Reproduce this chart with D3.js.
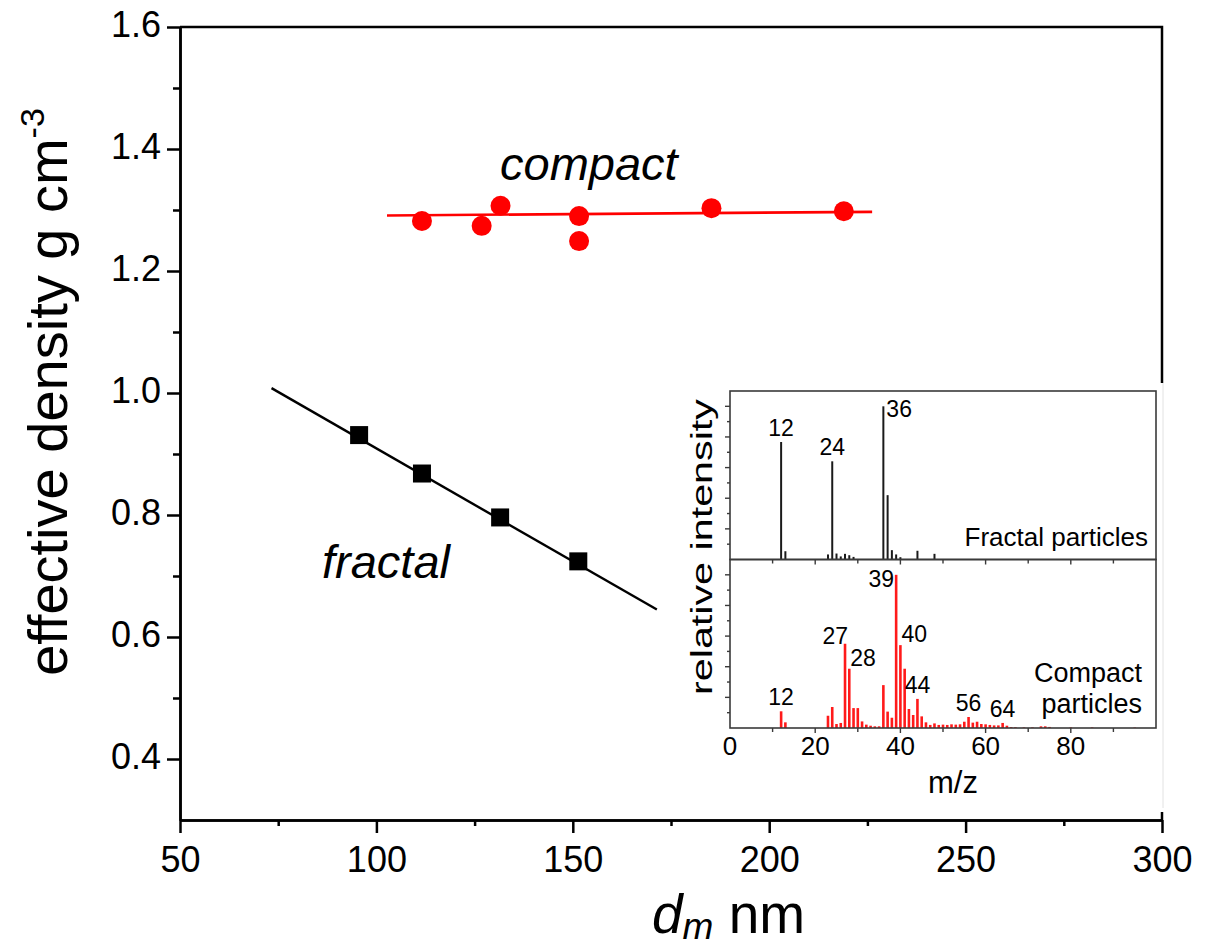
<!DOCTYPE html>
<html>
<head>
<meta charset="utf-8">
<script src="https://cdn.jsdelivr.net/npm/d3@7"></script>
<style>
  body { margin: 0; background: #fff; }
  svg { display: block; }
  text { font-family: "Liberation Sans", Arial, Helvetica, sans-serif; fill: #000; }
</style>
</head>
<body>
<svg id="chart" width="1222" height="948"></svg>
<script>
// ---- effective density vs. mobility diameter ----
const compactDm  = [111.6, 126.8, 131.6, 151.6, 151.6, 185.3, 219.0];
const compactRho = [1.282, 1.274, 1.307, 1.290, 1.249, 1.303, 1.298];
const fractalDm  = [95.6, 111.6, 131.5, 151.4];
const fractalRho = [0.931, 0.868, 0.796, 0.724];

// linear fits drawn over the measured range
const compactFitDm  = [102.7, 226.2];
const compactFitRho = [1.291, 1.297];
const fractalFitDm  = [73.3, 171.4];
const fractalFitRho = [1.008, 0.645];

const xMajorTicks = [50, 100, 150, 200, 250, 300];
const xMinorTicks = [75, 125, 175, 225, 275];
const yMajorTicks = [0.4, 0.6, 0.8, 1.0, 1.2, 1.4, 1.6];
const yMinorTicks = [0.5, 0.7, 0.9, 1.1, 1.3, 1.5];

// ---- inset: single-particle mass spectra ----
const fractalMz  = [12, 13, 23, 24, 25, 26, 27, 28, 29, 36, 37, 38, 39, 40, 44, 48];
const fractalInt = [0.767, 0.054, 0.033, 0.641, 0.039, 0.020, 0.037, 0.028, 0.017,
                    1.000, 0.420, 0.061, 0.033, 0.015, 0.057, 0.037];

const compactMz  = [12, 13, 23, 24, 25, 26, 27, 28, 29, 30, 31, 32, 33, 34, 35, 36, 37, 38,
                    39, 40, 41, 42, 43, 44, 45, 46, 47, 48, 49, 50, 51, 52, 53, 54, 55, 56,
                    57, 58, 59, 60, 61, 62, 63, 64, 65, 66, 67, 69, 71, 73, 74, 75, 80, 85, 95];
const compactInt = [0.109, 0.037, 0.080, 0.137, 0.026, 0.033, 0.550, 0.387, 0.130, 0.130,
                    0.043, 0.022, 0.015, 0.011, 0.011, 0.280, 0.107, 0.067,
                    1.000, 0.541, 0.387, 0.124, 0.085, 0.190, 0.076, 0.037, 0.020, 0.030,
                    0.020, 0.022, 0.020, 0.024, 0.022, 0.024, 0.041, 0.072,
                    0.035, 0.041, 0.026, 0.024, 0.020, 0.017, 0.017, 0.033, 0.015,
                    0.006, 0.005, 0.004, 0.004, 0.011, 0.011, 0.007, 0.004, 0.004, 0.003];

const fractalPeakLabels = [12, 24, 36];
const compactPeakLabels = [12, 27, 28, 39, 40, 44, 56, 64];
const insetXTickLabels  = [0, 20, 40, 60, 80];

// ---------------------------------------------------------------
const svg = d3.select("#chart");
const W = 1222, H = 948;
svg.append("rect").attr("width", W).attr("height", H).attr("fill", "#fff");

const x = d3.scaleLinear().domain([50, 300]).range([180, 1162]);
const y = d3.scaleLinear().domain([0.3, 1.6]).range([820, 27]);

const AXIS_W = 2.5;

// plot frame (top and right edges)
svg.append("path")
  .attr("d", `M${x(50)},${y(1.6)}H${x(300)}V${y(0.3)}`)
  .attr("fill", "none").attr("stroke", "#000").attr("stroke-width", AXIS_W);

// fit lines
const line = d3.line().x(d => x(d[0])).y(d => y(d[1]));
svg.append("path")
  .datum(d3.zip(compactFitDm, compactFitRho))
  .attr("d", line).attr("fill", "none").attr("stroke", "#ff0000").attr("stroke-width", 2.6);
svg.append("path")
  .datum(d3.zip(fractalFitDm, fractalFitRho))
  .attr("d", line).attr("fill", "none").attr("stroke", "#000").attr("stroke-width", 2.4);

// markers
svg.append("g").selectAll("circle")
  .data(d3.zip(compactDm, compactRho))
  .join("circle")
  .attr("cx", d => x(d[0])).attr("cy", d => y(d[1])).attr("r", 10)
  .attr("fill", "#ff0000");

const SQ = 18;
svg.append("g").selectAll("rect")
  .data(d3.zip(fractalDm, fractalRho))
  .join("rect")
  .attr("x", d => x(d[0]) - SQ / 2).attr("y", d => y(d[1]) - SQ / 2)
  .attr("width", SQ).attr("height", SQ)
  .attr("fill", "#000");

// series names
svg.append("text").attr("x", 500).attr("y", 180)
  .attr("font-size", 47).attr("font-style", "italic").text("compact");
svg.append("text").attr("x", 322).attr("y", 578)
  .attr("font-size", 47).attr("font-style", "italic").text("fractal");

// axes
function styleAxis(g) {
  g.select(".domain").attr("stroke", "#000").attr("stroke-width", AXIS_W);
  g.selectAll(".tick line").attr("stroke", "#000").attr("stroke-width", AXIS_W);
}
const gx = svg.append("g").attr("transform", `translate(0,${y(0.3)})`)
  .call(d3.axisBottom(x).tickValues(xMajorTicks).tickSize(13).tickSizeOuter(0).tickFormat(d3.format("d")));
styleAxis(gx);
gx.selectAll(".tick text").attr("y", 52).attr("dy", 0).attr("font-size", 36)
  .attr("font-family", null).attr("fill", "#000");
const gxm = svg.append("g").attr("transform", `translate(0,${y(0.3)})`)
  .call(d3.axisBottom(x).tickValues(xMinorTicks).tickSize(6).tickSizeOuter(0).tickFormat(""));
styleAxis(gxm);

const gy = svg.append("g").attr("transform", `translate(${x(50)},0)`)
  .call(d3.axisLeft(y).tickValues(yMajorTicks).tickSize(13).tickSizeOuter(0).tickPadding(6).tickFormat(d3.format(".1f")));
styleAxis(gy);
gy.selectAll(".tick text").attr("font-size", 36).attr("dy", "0.26em")
  .attr("font-family", null).attr("fill", "#000");
const gym = svg.append("g").attr("transform", `translate(${x(50)},0)`)
  .call(d3.axisLeft(y).tickValues(yMinorTicks).tickSize(7).tickSizeOuter(0).tickFormat(""));
styleAxis(gym);

// axis titles
const yTitle = svg.append("text")
  .attr("transform", `translate(67,392) rotate(-90)`)
  .attr("text-anchor", "middle").attr("font-size", 56);
yTitle.append("tspan").text("effective density g cm");
yTitle.append("tspan").attr("font-size", 34).attr("dy", -23).text("-3");

const xTitle = svg.append("text").attr("x", 652).attr("y", 933).attr("font-size", 55);
xTitle.append("tspan").attr("font-style", "italic").text("d");
xTitle.append("tspan").attr("font-style", "italic").attr("font-size", 37).attr("dy", 6).text("m");
xTitle.append("tspan").attr("dy", -6).text(" nm");

// ---------------- inset ----------------
const inset = svg.append("g");
inset.append("rect").attr("x", 676).attr("y", 383).attr("width", 490).attr("height", 429)
  .attr("fill", "#fff");
inset.append("line").attr("x1", 1163).attr("x2", 1163).attr("y1", 383).attr("y2", 808)
  .attr("stroke", "#e2e2e2").attr("stroke-width", 1);

const ix = d3.scaleLinear().domain([0, 100]).range([730, 1156]);
const iyTop = d3.scaleLinear().domain([0, 1.1]).range([559.5, 391]);
const iyBot = d3.scaleLinear().domain([0, 1.1]).range([728, 559.5]);
const FRAME = "#3a3a3a";

function panel(iy, mz, inten, color, width) {
  const g = inset.append("g");
  // bars
  g.selectAll("line.bar").data(d3.zip(mz, inten)).join("line")
    .attr("class", "bar")
    .attr("x1", d => ix(d[0])).attr("x2", d => ix(d[0]))
    .attr("y1", iy(0)).attr("y2", d => iy(d[1]))
    .attr("stroke", color).attr("stroke-width", width);
  // frame
  g.append("rect")
    .attr("x", ix(0)).attr("y", iy(1.1))
    .attr("width", ix(100) - ix(0)).attr("height", iy(0) - iy(1.1))
    .attr("fill", "none").attr("stroke", FRAME).attr("stroke-width", 1.6);
  // x ticks (outward, every 10)
  g.selectAll("line.xt").data(d3.range(10, 100, 10)).join("line")
    .attr("class", "xt")
    .attr("x1", d => ix(d)).attr("x2", d => ix(d))
    .attr("y1", iy(0)).attr("y2", d => iy(0) + (d % 20 === 0 ? 5 : 4))
    .attr("stroke", FRAME).attr("stroke-width", 1.4);
  // y ticks (outward, every 0.1)
  g.selectAll("line.yt").data(d3.range(1, 11)).join("line")
    .attr("class", "yt")
    .attr("x1", ix(0)).attr("x2", d => ix(0) - (d % 2 === 0 ? 5 : 3))
    .attr("y1", d => iy(d / 10)).attr("y2", d => iy(d / 10))
    .attr("stroke", FRAME).attr("stroke-width", 1.4);
  return g;
}

const gTop = panel(iyTop, fractalMz, fractalInt, "#1a1a1a", 2);
const gBot = panel(iyBot, compactMz, compactInt, "#ff1a1a", 2.6);

// peak labels, placed relative to the top of each labelled bar
const placement = {
  above:      { anchor: "middle", dx: 0,  dy: -6 },
  upperLeft:  { anchor: "end",    dx: 3,  dy: 0 },
  upperRight: { anchor: "start",  dx: 1,  dy: -3 },
  sideLeft:   { anchor: "end",    dx: -2, dy: 12 },
  sideRight:  { anchor: "start",  dx: 3,  dy: 11 }
};
const fractalPlace = { 12: "above", 24: "above", 36: "sideRight" };
const compactPlace = { 12: "above", 27: "upperLeft", 28: "upperRight", 39: "sideLeft",
                       40: "upperRight", 44: "above", 56: "above", 64: "above" };

function peakLabels(g, iy, mz, inten, labels, place) {
  labels.forEach(m => {
    const v = inten[mz.indexOf(m)];
    const p = placement[place[m]];
    g.append("text")
      .attr("x", ix(m) + p.dx).attr("y", iy(v) + p.dy)
      .attr("text-anchor", p.anchor).attr("font-size", 23).attr("fill", "#1a1a1a")
      .text(m);
  });
}
peakLabels(gTop, iyTop, fractalMz, fractalInt, fractalPeakLabels, fractalPlace);
peakLabels(gBot, iyBot, compactMz, compactInt, compactPeakLabels, compactPlace);

// panel names
inset.append("text").attr("x", 1148).attr("y", 546).attr("text-anchor", "end")
  .attr("font-size", 26).attr("fill", "#222").text("Fractal particles");
const cp = inset.append("text").attr("text-anchor", "end").attr("font-size", 27).attr("fill", "#222");
cp.append("tspan").attr("x", 1142).attr("y", 682).text("Compact");
cp.append("tspan").attr("x", 1142).attr("y", 713).text("particles");

// inset axis labels
inset.append("g").selectAll("text").data(insetXTickLabels).join("text")
  .attr("x", d => ix(d)).attr("y", 755).attr("text-anchor", "middle")
  .attr("font-size", 26).attr("fill", "#222").text(d => d);
inset.append("text").attr("x", 953).attr("y", 793).attr("text-anchor", "middle")
  .attr("font-size", 31).attr("fill", "#222").text("m/z");
inset.append("text")
  .attr("transform", `translate(712,547) rotate(-90)`)
  .attr("text-anchor", "middle").attr("font-size", 30).attr("fill", "#222")
  .attr("textLength", 296).attr("lengthAdjust", "spacingAndGlyphs")
  .text("relative intensity");
</script>
</body>
</html>
